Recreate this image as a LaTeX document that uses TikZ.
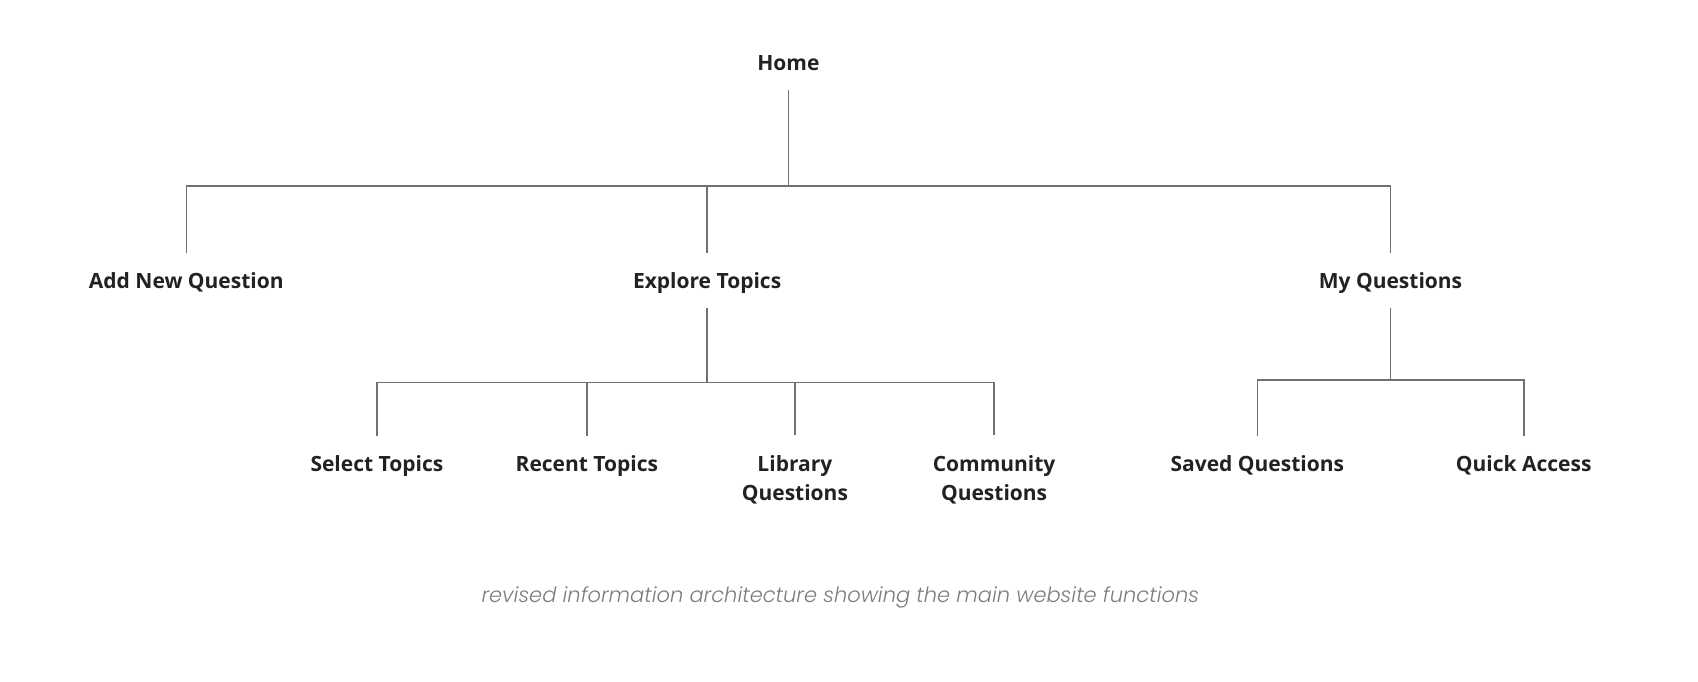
\documentclass[tikz,border=0pt]{standalone}
\usepackage{fontspec}
\setmainfont{Open Sans}
\newfontfamily\capfont{Poppins Light Italic}
\definecolor{txt}{RGB}{34,34,34}
\definecolor{ln}{RGB}{112,112,112}
\definecolor{capc}{RGB}{125,125,125}
\begin{document}
\begin{tikzpicture}[x=1pt,y=-1pt,
  lab/.style={inner sep=0pt, outer xsep=0pt, outer ysep=20pt, text height=15pt, text depth=0pt,
    align=center, text=txt, font=\fontsize{21}{29.2}\selectfont\bfseries},
  lab2/.style={inner sep=0pt, outer xsep=0pt, outer ysep=20pt, anchor=north,
    align=center, text=txt, font=\fontsize{21}{29.2}\selectfont\bfseries},
  link/.style={draw=ln, line width=1.6pt}]
\useasboundingbox (0,0) rectangle (1698,682);
% nodes
\node[lab] (home) at (788.4,62.8) {Home};
\node[lab] (add) at (186.3,280.5) {Add New Question};
\node[lab] (explore) at (707.1,280.5) {Explore Topics};
\node[lab] (myq) at (1390.5,280.5) {My Questions};
\node[lab] (select) at (376.9,463.5) {Select Topics};
\node[lab] (recent) at (586.9,463.5) {Recent Topics};
\node[lab2] (library) at (794.9,435.3) {Library\\Questions};
\node[lab2] (community) at (994.1,435.3) {Community\\Questions};
\node[lab] (saved) at (1257.3,463.5) {Saved Questions};
\node[lab] (quick) at (1523.7,463.5) {Quick Access};
\node[text=capc, font=\capfont\fontsize{21}{26}\selectfont, inner sep=0pt] (cap) at (840.3,597.8)
  {revised information architecture showing the main website functions};
% junction coordinates
\coordinate (hj) at (788.4,186.3);
\coordinate (ej) at (707.1,382.3);
\coordinate (mj) at (1390.5,380.1);
% connectors
\draw[link] (home.south) -- (hj);
\draw[link] (add.north) |- (hj);
\draw[link] (myq.north) |- (hj);
\draw[link] (explore.north) -- (explore.north |- hj);
\draw[link] (explore.south) -- (ej);
\draw[link] (select.north) |- (ej);
\draw[link] (community.north) |- (ej);
\draw[link] (recent.north) -- (recent.north |- ej);
\draw[link] (library.north) -- (library.north |- ej);
\draw[link] (myq.south) -- (mj);
\draw[link] (saved.north) |- (mj);
\draw[link] (quick.north) |- (mj);
\end{tikzpicture}
\end{document}
